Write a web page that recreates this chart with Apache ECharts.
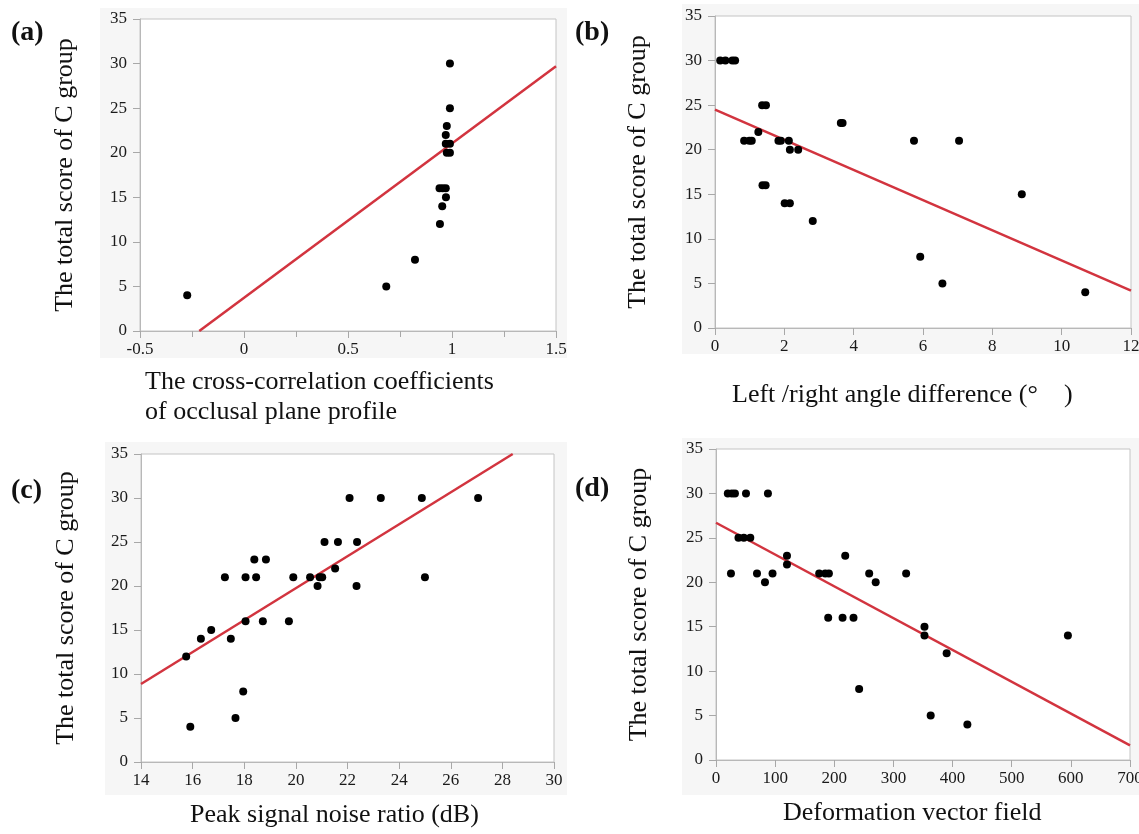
<!DOCTYPE html>
<html>
<head>
<meta charset="utf-8">
<script src="https://cdn.jsdelivr.net/npm/echarts@6/dist/echarts.min.js"></script>
<style>html,body{margin:0;padding:0;background:#fff;}#c{width:1139px;height:834px;}</style>
</head>
<body>
<div id="c"></div>
<script>
// Panel (a): cross-correlation coefficients vs total score
const aX = [-0.273, 0.684, 0.822, 0.942, 0.953, 0.971, 0.94, 0.955, 0.97, 0.975, 0.99, 0.97, 0.99, 0.97, 0.975, 0.99, 0.99];
const aY = [4, 5, 8, 12, 14, 15, 16, 16, 16, 20, 20, 21, 21, 22, 23, 25, 30];
const aFitX = [-0.215, 1.5];
const aFitY = [0, 29.7];

// Panel (b): left/right angle difference
const bX = [0.15, 0.3, 0.5, 0.58, 1.36, 1.47, 3.63, 3.68, 1.25, 0.84, 0.99, 1.06, 1.83, 1.9, 2.13, 5.74, 7.04, 2.16, 2.4, 1.37, 1.46, 8.85, 2.01, 2.16, 2.82, 5.92, 6.56, 10.68];
const bY = [30, 30, 30, 30, 25, 25, 23, 23, 22, 21, 21, 21, 21, 21, 21, 21, 21, 20, 20, 16, 16, 15, 14, 14, 12, 8, 5, 4];
const bFitX = [0, 12];
const bFitY = [24.5, 4.2];

// Panel (c): peak signal noise ratio
const cX = [22.08, 23.29, 24.88, 27.06, 21.11, 21.63, 22.37, 18.39, 18.84, 21.52, 17.25, 18.05, 18.46, 19.9, 20.55, 20.92, 21.02, 25.0, 20.84, 22.35, 18.05, 18.72, 19.73, 16.72, 16.32, 17.48, 15.75, 17.96, 17.66, 15.91];
const cY = [30, 30, 30, 30, 25, 25, 25, 23, 23, 22, 21, 21, 21, 21, 21, 21, 21, 21, 20, 20, 16, 16, 16, 15, 14, 14, 12, 8, 5, 4];
const cFitX = [14, 28.4];
const cFitY = [8.86, 35];

// Panel (d): deformation vector field
const dX = [20, 27, 32, 50.7, 87.8, 38, 47, 58, 120, 218.5, 120, 25.3, 69.3, 95.6, 174.5, 184.7, 190.9, 259, 321.5, 82.8, 270, 189.7, 214, 232.5, 352.5, 352.5, 595, 390, 242, 363, 425];
const dY = [30, 30, 30, 30, 30, 25, 25, 25, 23, 23, 22, 21, 21, 21, 21, 21, 21, 21, 21, 20, 20, 16, 16, 16, 15, 14, 14, 12, 8, 5, 4];
const dFitX = [0, 700];
const dFitY = [26.7, 1.65];

const yTitle = 'The total score of C group';
const xTitles = [
  'The cross-correlation coefficients\nof occlusal plane profile',
  'Left /right angle difference (°    )',
  'Peak signal noise ratio (dB)',
  'Deformation vector field'
];
const panelLabels = ['(a)', '(b)', '(c)', '(d)'];

const FONT = '"Liberation Serif", "Times New Roman", serif';
const zip = (xs, ys) => xs.map((x, i) => [x, ys[i]]);

const grids = [
  {left: 140, top: 19, width: 416, height: 312},
  {left: 715, top: 16, width: 416, height: 312},
  {left: 141, top: 454, width: 413, height: 308},
  {left: 716, top: 449, width: 414, height: 311}
];
const xCfg = [
  {min: -0.5, max: 1.5, interval: 0.5, minor: true},
  {min: 0, max: 12, interval: 2, minor: false},
  {min: 14, max: 30, interval: 2, minor: false},
  {min: 0, max: 700, interval: 100, minor: false}
];
// x-title placement (left edge, vertical centre)
const xTitlePos = [[145, 397], [732, 395], [190, 815], [783, 813]];
const yGaps = [62, 64, 62, 64];

const axisLine = {show: true, onZero: false, lineStyle: {color: '#b8b8b8', width: 1}};
const axisTick = {show: true, length: 7, lineStyle: {color: '#a8a8a8'}};
const axisLabel = {color: '#1a1a1a', fontFamily: FONT, fontSize: 17};

const option = {
  backgroundColor: '#ffffff',
  animation: false,
  title: panelLabels.map((t, i) => ({
    text: t,
    left: [6, 570, 6, 570][i],
    top: [14, 14, 472, 470][i],
    textStyle: {fontFamily: FONT, fontWeight: 'bold', fontSize: 28, color: '#111'}
  })),
  graphic: [
    {type: 'rect', z: -10, shape: {x: 100, y: 8, width: 467, height: 350}, style: {fill: '#f6f6f6'}},
    {type: 'rect', z: -10, shape: {x: 682, y: 4, width: 457, height: 350}, style: {fill: '#f6f6f6'}},
    {type: 'rect', z: -10, shape: {x: 105, y: 442, width: 462, height: 353}, style: {fill: '#f6f6f6'}},
    {type: 'rect', z: -10, shape: {x: 682, y: 438, width: 457, height: 357}, style: {fill: '#f6f6f6'}}
  ].concat(xTitles.map((t, i) => ({
    type: 'text', z: 5, x: xTitlePos[i][0], y: xTitlePos[i][1],
    style: {text: t, fontFamily: FONT, fontSize: 26, fill: '#111', align: 'left', verticalAlign: 'middle', lineHeight: 30}
  }))),
  grid: grids.map(g => Object.assign({show: true, backgroundColor: '#ffffff', borderColor: '#c4c4c4', borderWidth: 1, containLabel: false, outerBoundsMode: 'none'}, g)),
  xAxis: xCfg.map((c, i) => ({
    type: 'value', gridIndex: i, min: c.min, max: c.max, interval: c.interval,
    splitLine: {show: false},
    axisLine, axisTick,
    minorTick: {show: c.minor, splitNumber: 2, length: 6, lineStyle: {color: '#a8a8a8'}},
    axisLabel: Object.assign({margin: 10}, axisLabel)
  })),
  yAxis: grids.map((g, i) => ({
    type: 'value', gridIndex: i, min: 0, max: 35, interval: 5,
    splitLine: {show: false},
    axisLine, axisTick,
    axisLabel: Object.assign({margin: 13}, axisLabel),
    name: yTitle,
    nameLocation: 'middle',
    nameGap: yGaps[i],
    nameTextStyle: {fontFamily: FONT, fontSize: 26, color: '#111'}
  })),
  series: []
};

const pts = [zip(aX, aY), zip(bX, bY), zip(cX, cY), zip(dX, dY)];
const fits = [zip(aFitX, aFitY), zip(bFitX, bFitY), zip(cFitX, cFitY), zip(dFitX, dFitY)];
for (let i = 0; i < 4; i++) {
  option.series.push({
    type: 'line', xAxisIndex: i, yAxisIndex: i, data: fits[i],
    showSymbol: false, symbol: 'none', clip: true,
    lineStyle: {color: '#d2343f', width: 2.5}, z: 2
  });
  option.series.push({
    type: 'scatter', xAxisIndex: i, yAxisIndex: i, data: pts[i],
    symbolSize: 8, itemStyle: {color: '#000', opacity: 1}, z: 3
  });
}

const chart = echarts.init(document.getElementById('c'));
chart.setOption(option);
</script>
</body>
</html>
